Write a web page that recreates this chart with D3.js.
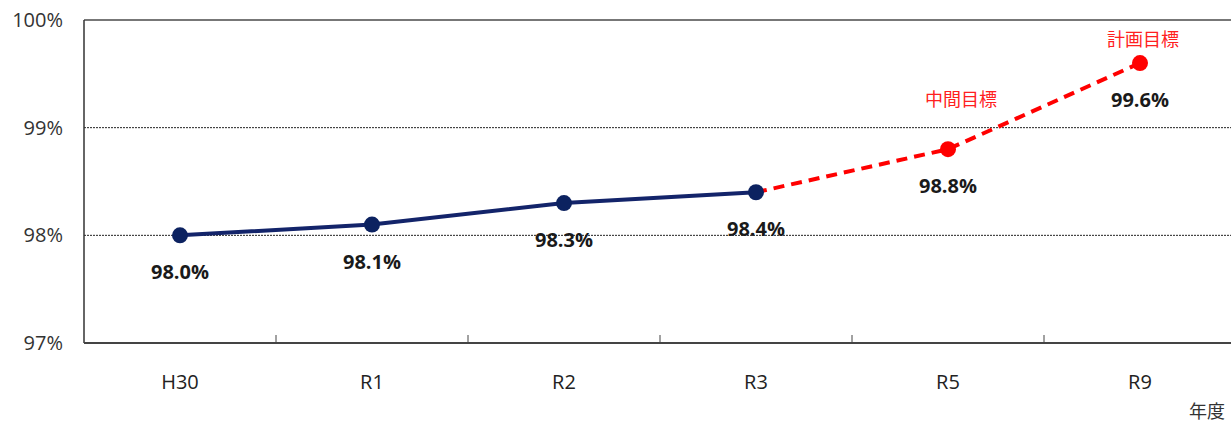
<!DOCTYPE html>
<html>
<head>
<meta charset="utf-8">
<script src="https://cdn.jsdelivr.net/npm/d3@7"></script>
<style>
  body { margin: 0; background: #fff; }
  text { font-family: "Open Sans", "Noto Sans", "Noto Sans CJK JP", sans-serif; }
</style>
</head>
<body>
<div id="chart"></div>
<script>
// data
var years = ["H30", "R1", "R2", "R3", "R5", "R9"];
var actual = [98.0, 98.1, 98.3, 98.4];
var targets = [98.4, 98.8, 99.6];
var targetYears = ["R3", "R5", "R9"];
var targetNames = ["", "中間目標", "計画目標"];
var yTicks = [97, 98, 99, 100];

var w = 1231, h = 423;
var plotLeft = 84, plotRight = 1236, plotTop = 20, plotBottom = 343;
// label offsets for the target names (dx, dy from the point)
var nameOffsets = [[0, 0], [13, -43], [3, -17]];

var svg = d3.select("#chart").append("svg")
  .attr("width", w)
  .attr("height", h);

var x = d3.scaleBand().domain(years).range([plotLeft, plotRight]);
var y = d3.scaleLinear().domain([97, 100]).range([plotBottom, plotTop]);
var cx = function (d) { return x(d) + x.bandwidth() / 2; };

// gridlines
svg.selectAll(".grid")
  .data([98, 99])
  .enter().append("line")
  .attr("x1", plotLeft).attr("x2", plotRight)
  .attr("y1", function (d) { return y(d); })
  .attr("y2", function (d) { return y(d); })
  .attr("stroke", "#222")
  .attr("stroke-width", 1)
  .attr("stroke-dasharray", "2,1");

// top border
svg.append("line")
  .attr("x1", plotLeft).attr("x2", plotRight)
  .attr("y1", y(100)).attr("y2", y(100))
  .attr("stroke", "#777").attr("stroke-width", 2);

// left axis line
svg.append("line")
  .attr("x1", plotLeft).attr("x2", plotLeft)
  .attr("y1", y(100)).attr("y2", plotBottom)
  .attr("stroke", "#333").attr("stroke-width", 1.5);

// bottom axis
svg.append("line")
  .attr("x1", plotLeft).attr("x2", plotRight)
  .attr("y1", plotBottom).attr("y2", plotBottom)
  .attr("stroke", "#444").attr("stroke-width", 2);

svg.selectAll(".xtick")
  .data(years.slice(1))
  .enter().append("line")
  .attr("x1", function (d) { return x(d); })
  .attr("x2", function (d) { return x(d); })
  .attr("y1", plotBottom).attr("y2", plotBottom - 8)
  .attr("stroke", "#444").attr("stroke-width", 1);

svg.selectAll(".xlabel")
  .data(years)
  .enter().append("text")
  .attr("x", cx)
  .attr("y", 389)
  .attr("text-anchor", "middle")
  .attr("font-size", "20px")
  .attr("fill", "#222")
  .text(function (d) { return d; });

svg.selectAll(".ylabel")
  .data(yTicks)
  .enter().append("text")
  .attr("x", 63)
  .attr("y", function (d) { return y(d) + 7; })
  .attr("text-anchor", "end")
  .attr("font-size", "20px")
  .attr("fill", "#333")
  .text(function (d) { return d + "%"; });

svg.append("text")
  .attr("x", 1225)
  .attr("y", 418)
  .attr("text-anchor", "end")
  .attr("font-size", "18px")
  .attr("fill", "#333")
  .text("年度");

// target dashed line
var line = d3.line()
  .x(function (d) { return cx(d[0]); })
  .y(function (d) { return y(d[1]); });

svg.append("path")
  .datum(d3.zip(targetYears, targets))
  .attr("d", line)
  .attr("fill", "none")
  .attr("stroke", "#ff0000")
  .attr("stroke-width", 4)
  .attr("stroke-dasharray", "11,7");

// actual line
svg.append("path")
  .datum(d3.zip(years.slice(0, actual.length), actual))
  .attr("d", line)
  .attr("fill", "none")
  .attr("stroke", "#13246a")
  .attr("stroke-width", 4);

svg.selectAll(".tdot")
  .data(d3.zip(targetYears, targets).slice(1))
  .enter().append("circle")
  .attr("cx", function (d) { return cx(d[0]); })
  .attr("cy", function (d) { return y(d[1]); })
  .attr("r", 8)
  .attr("fill", "#ff0000");

svg.selectAll(".adot")
  .data(d3.zip(years.slice(0, actual.length), actual))
  .enter().append("circle")
  .attr("cx", function (d) { return cx(d[0]); })
  .attr("cy", function (d) { return y(d[1]); })
  .attr("r", 8)
  .attr("fill", "#0c2260");

// value labels
var allVals = d3.zip(years.slice(0, actual.length), actual)
  .concat(d3.zip(targetYears, targets).slice(1));

svg.selectAll(".vlabel")
  .data(allVals)
  .enter().append("text")
  .attr("x", function (d) { return cx(d[0]); })
  .attr("y", function (d) { return y(d[1]) + 44; })
  .attr("text-anchor", "middle")
  .attr("font-size", "20px")
  .attr("font-weight", "bold")
  .attr("fill", "#1a1a1a")
  .text(function (d) { return d[1].toFixed(1) + "%"; });

// target names
svg.selectAll(".tname")
  .data(d3.zip(targetYears, targets, targetNames, nameOffsets).slice(1))
  .enter().append("text")
  .attr("x", function (d) { return cx(d[0]) + d[3][0]; })
  .attr("y", function (d) { return y(d[1]) + d[3][1]; })
  .attr("text-anchor", "middle")
  .attr("font-size", "18px")
  .attr("fill", "#ff2020")
  .text(function (d) { return d[2]; });
</script>
</body>
</html>
